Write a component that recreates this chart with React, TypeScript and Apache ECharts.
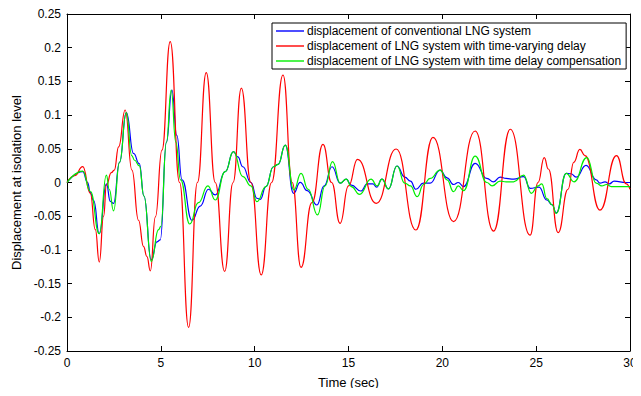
import React, { useEffect, useRef } from "react";
import * as echarts from "echarts";

const seriesNames = [
  "displacement of conventional LNG system",
  "displacement of LNG system with time-varying delay",
  "displacement of LNG system with time delay compensation",
];

const xTicks = { min: 0, max: 30, interval: 5 };
const yTicks = { min: -0.25, max: 0.25, interval: 0.05 };

const conventional: [number, number][] = [
  [0, 0], [0.84, 0.016], [1.1, 0.0], [1.24, -0.015], [1.42, -0.027], [1.72, -0.076],
  [2.1, -0.002], [2.31, -0.028], [2.48, -0.031], [2.8, 0.03], [3.16, 0.1036],
  [3.55, 0.043], [3.85, 0.028], [4.1, -0.02], [4.49, -0.115], [4.79, -0.088],
  [4.97, -0.085], [5.3, 0.06], [5.59, 0.137], [5.85, 0.07], [6.13, 0.004],
  [6.66, -0.056], [7.1, -0.035], [7.54, -0.01], [7.9, -0.0185], [8.43, 0.016],
  [8.87, 0.0457], [9.1, 0.038], [9.37, 0.0234], [9.8, 0.0], [10.12, -0.0234],
  [10.3, -0.025], [10.6, -0.006], [11.0, 0.0234], [11.25, 0.027], [11.63, 0.0556],
  [12.07, -0.016], [12.43, 0.0003], [12.8, -0.012], [13.32, -0.0334], [13.7, -0.005],
  [14.12, 0.0234], [14.56, -0.001], [14.88, 0.005], [15.15, -0.004], [15.66, -0.0126],
  [16.0, -0.002], [16.3, -0.002], [16.5, -0.007], [16.78, 0.005], [17.13, -0.0096],
  [17.58, 0.0245], [18.0, 0.008], [18.3, 0.002], [18.59, -0.01], [18.99, -0.001],
  [19.35, -0.001], [19.88, 0.0185], [20.25, 0.007], [20.6, -0.003], [20.85, 0.0],
  [21.13, -0.006], [21.75, 0.0285], [22.37, 0.006], [22.73, 0.001], [23.08, 0.008],
  [23.4, 0.006], [23.8, 0.005], [24.33, 0.0086], [24.68, -0.0086], [25.15, -0.007],
  [25.57, -0.026], [25.85, -0.033], [26.07, -0.045], [26.6, 0.0136], [26.85, 0.013],
  [27.13, 0.008], [27.66, 0.0255], [28.2, 0.004], [28.4, -0.001], [28.67, 0.001],
  [28.9, -0.002], [29.15, 0.002], [29.8, 0.0], [30, 0.0],
];

const timeVaryingDelay: [number, number][] = [
  [0, 0], [0.4, 0.01], [0.84, 0.0235], [1.24, -0.016], [1.51, -0.07], [1.72, -0.118],
  [1.95, -0.05], [2.1, -0.004], [2.36, 0.0146], [2.52, 0.0185], [2.75, 0.053],
  [3.1, 0.1076], [3.46, 0.0185], [3.81, -0.056], [4.08, -0.095], [4.26, -0.11],
  [4.44, -0.131], [4.71, -0.051], [5.06, 0.048], [5.5, 0.209], [6.0, 0.0],
  [6.48, -0.215], [6.95, 0.0], [7.42, 0.163], [7.9, 0.0], [8.4, -0.132], [8.85, 0.0],
  [9.29, 0.14], [9.8, 0.0], [10.35, -0.137], [10.9, 0.0], [11.51, 0.1595], [12.0, 0.0],
  [12.47, -0.126], [13.05, -0.03], [13.64, 0.0567], [14.1, 0.0], [14.55, -0.0606],
  [15.0, -0.005], [15.48, 0.0344], [16.48, -0.031], [17.54, 0.0497], [18.59, -0.0705],
  [19.5, 0.067], [20.6, -0.058], [21.75, 0.0764], [22.73, -0.072], [23.62, 0.079],
  [24.68, -0.078], [25.1, 0.0], [25.43, 0.037], [25.65, 0.02], [26.17, -0.0745],
  [26.7, -0.01], [27.0, 0.03], [27.33, 0.049], [27.6, 0.04], [28.4, -0.041],
  [29.28, 0.04], [29.8, -0.002], [30, -0.01],
];

const delayCompensation: [number, number][] = [
  [0, 0], [0.84, 0.017], [1.24, -0.013], [1.72, -0.076], [2.1, 0.011], [2.25, -0.01],
  [2.48, -0.042], [2.8, 0.03], [3.16, 0.1036], [3.45, 0.04], [3.6, 0.033], [3.85, 0.025],
  [4.1, -0.02], [4.49, -0.117], [4.88, -0.07], [5.0, -0.065], [5.3, 0.06], [5.55, 0.137],
  [5.8, 0.06], [6.05, 0.004], [6.54, -0.0616], [7.0, -0.03], [7.51, -0.005],
  [7.9, -0.026], [8.43, 0.016], [8.87, 0.0457], [9.37, 0.0086], [9.8, -0.005],
  [10.12, -0.0285], [10.6, -0.006], [11.0, 0.0234], [11.25, 0.027], [11.63, 0.0556],
  [12.09, -0.011], [12.47, 0.0136], [12.85, -0.01], [13.35, -0.048], [13.75, -0.005],
  [14.15, 0.031], [14.56, -0.001], [14.88, 0.005], [15.15, -0.006], [15.59, -0.0175],
  [16.2, 0.005], [16.53, -0.005], [16.78, 0.005], [17.13, -0.0096], [17.58, 0.0245],
  [18.0, -0.001], [18.3, -0.005], [18.66, -0.021], [19.0, -0.003], [19.35, 0.006],
  [19.88, 0.0185], [20.25, 0.004], [20.6, -0.0136], [20.85, -0.005], [21.13, -0.012],
  [21.75, 0.039], [22.37, 0.0], [22.65, -0.005], [23.08, 0.002], [23.4, 0.001],
  [23.8, 0.001], [24.33, 0.011], [24.74, -0.016], [25.1, -0.005], [25.3, -0.002],
  [25.57, -0.024], [25.85, -0.033], [26.07, -0.046], [26.6, 0.0136], [27.02, 0.001],
  [27.7, 0.037], [28.2, -0.001], [28.5, -0.005], [28.75, -0.003], [29.0, -0.006],
  [29.8, -0.006], [30, -0.006],
];

const colors = ["#0000ff", "#ff0000", "#00ee00"];
const FONT = "'Liberation Sans', Arial, Helvetica, sans-serif";

export default function App() {
  const ref = useRef<HTMLDivElement>(null);
  useEffect(() => {
    if (!ref.current) return;
    const chart = echarts.init(ref.current, undefined, { renderer: "svg" });
    const axisLine = { show: true, onZero: false, lineStyle: { color: "#000", width: 1 } };
    const tick = { show: true, inside: true, length: 5, lineStyle: { color: "#000" } };
    const datasets = [conventional, timeVaryingDelay, delayCompensation];
    chart.setOption({
      animation: false,
      backgroundColor: "#fff",
      textStyle: { fontFamily: FONT },
      grid: { left: 67, right: 11, top: 14, bottom: 45, containLabel: false },
      legend: {
        data: seriesNames,
        orient: "vertical",
        left: 272,
        top: 23,
        icon: "rect",
        itemWidth: 28,
        itemHeight: 1.4,
        itemGap: 3,
        padding: [2, 5, 2, 4],
        borderColor: "#000",
        borderWidth: 1,
        backgroundColor: "#fff",
        textStyle: { fontSize: 12, color: "#000", fontFamily: FONT, padding: [0, 0, 0, -2] },
      },
      xAxis: [
        {
          type: "value", position: "bottom", min: xTicks.min, max: xTicks.max, interval: xTicks.interval,
          axisLine, axisTick: tick, splitLine: { show: false },
          axisLabel: { color: "#000", fontSize: 12, margin: 6, fontFamily: FONT },
          name: "Time (sec)", nameLocation: "middle", nameGap: 25,
          nameTextStyle: { color: "#000", fontSize: 13, fontFamily: FONT },
        },
        {
          type: "value", position: "top", min: xTicks.min, max: xTicks.max, interval: xTicks.interval,
          axisLine, axisTick: tick, splitLine: { show: false }, axisLabel: { show: false },
        },
      ],
      yAxis: [
        {
          type: "value", position: "left", min: yTicks.min, max: yTicks.max, interval: yTicks.interval,
          axisLine, axisTick: tick, splitLine: { show: false },
          axisLabel: { color: "#000", fontSize: 12, margin: 6, fontFamily: FONT },
          name: "Displacement at isolation level", nameLocation: "middle", nameGap: 35,
          nameTextStyle: { color: "#000", fontSize: 13, fontFamily: FONT },
        },
        {
          type: "value", position: "right", min: yTicks.min, max: yTicks.max, interval: yTicks.interval,
          axisLine, axisTick: tick, splitLine: { show: false }, axisLabel: { show: false },
        },
      ],
      series: datasets.map((d, i) => ({
        name: seriesNames[i],
        type: "line",
        xAxisIndex: 0,
        yAxisIndex: 0,
        data: d,
        symbol: "none",
        showSymbol: false,
        smooth: true,
        smoothMonotone: "x",
        lineStyle: { color: colors[i], width: 1.2 },
        itemStyle: { color: colors[i] },
      })),
    });
    return () => chart.dispose();
  }, []);
  return <div ref={ref} style={{ width: 641, height: 396, margin: -8 }} />;
}
